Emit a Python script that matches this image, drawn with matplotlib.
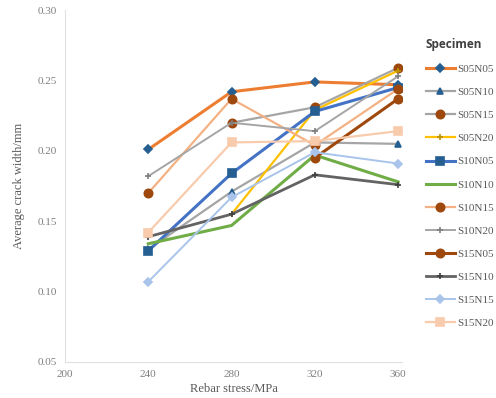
import matplotlib.pyplot as plt
import numpy as np

# rebar stress levels (MPa)
stress = [240, 280, 320, 360]
nan = np.nan

# average crack width (mm) per specimen
S05N05 = [0.201, 0.242, 0.249, 0.247]
S05N10 = [0.130, 0.171, 0.206, 0.205]
S05N15 = [nan, 0.220, 0.231, 0.259]
S05N20 = [nan, 0.155, 0.229, 0.257]
S10N05 = [0.129, 0.184, 0.228, 0.245]
S10N10 = [0.134, 0.147, 0.197, 0.178]
S10N15 = [0.170, 0.237, 0.204, 0.244]
S10N20 = [0.182, 0.220, 0.214, 0.253]
S15N05 = [nan, nan, 0.195, 0.237]
S15N10 = [0.139, 0.155, 0.183, 0.176]
S15N15 = [0.107, 0.167, 0.199, 0.191]
S15N20 = [0.142, 0.206, 0.207, 0.214]

names = ["S05N05", "S05N10", "S05N15", "S05N20", "S10N05", "S10N10",
         "S10N15", "S10N20", "S15N05", "S15N10", "S15N15", "S15N20"]
series = [S05N05, S05N10, S05N15, S05N20, S10N05, S10N10,
          S10N15, S10N20, S15N05, S15N10, S15N15, S15N20]

# (line colour, marker, marker colour, line width, marker size)
styles = [
    ("#ED7D31", "D", "#255E91", 2.2, 4),
    ("#A5A5A5", "^", "#255E91", 1.6, 5),
    ("#A5A5A5", "o", "#9E480E", 1.6, 6),
    ("#FFC000", "+", "#BF9000", 1.6, 5),
    ("#4472C4", "s", "#255E91", 2.2, 6),
    ("#70AD47", "", "#70AD47", 2.2, 0),
    ("#F4B183", "o", "#9E480E", 1.6, 6),
    ("#A5A5A5", "+", "#7F7F7F", 1.4, 5),
    ("#9E480E", "o", "#9E480E", 2.2, 6),
    ("#636363", "+", "#404040", 2.0, 5),
    ("#A9C4EB", "D", "#A9C4EB", 1.4, 4),
    ("#F8CBAD", "s", "#F8CBAD", 1.6, 6),
]

fig = plt.figure(figsize=(4.96, 3.98), dpi=100)
ax = fig.add_axes([0.131, 0.0905, 0.680, 0.884])

for name, vals, st in zip(names, series, styles):
    col, mk, mcol, lw, ms = st
    ax.plot(stress, vals, color=col, lw=lw, marker=mk if mk else None,
            markersize=ms, markerfacecolor=mcol, markeredgecolor=mcol,
            markeredgewidth=1.2, label=name)

ax.set_xlim(200, 362)
ax.set_ylim(0.05, 0.30)
ax.set_xticks([200, 240, 280, 320, 360])
ax.set_yticks([0.05, 0.10, 0.15, 0.20, 0.25, 0.30])
ax.set_yticklabels([f"{v:.2f}" for v in [0.05, 0.10, 0.15, 0.20, 0.25, 0.30]])

for s in ["top", "right"]:
    ax.spines[s].set_visible(False)
for s in ["left", "bottom"]:
    ax.spines[s].set_color("#E0E0E0")
    ax.spines[s].set_linewidth(0.8)
ax.tick_params(length=0, labelsize=8, colors="#7F7F7F", pad=6)
for lab in ax.get_xticklabels() + ax.get_yticklabels():
    lab.set_family("Liberation Serif")

ax.set_xlabel("Rebar stress/MPa", fontsize=9, family="Liberation Serif",
              color="#595959", labelpad=3)
ax.set_ylabel("Average crack width/mm", fontsize=9, family="Liberation Serif",
              color="#595959", labelpad=9)

leg = fig.legend(loc="upper left", bbox_to_anchor=(0.838, 0.93),
                 frameon=False, prop={"family": "Liberation Serif", "size": 8},
                 labelspacing=1.2, handlelength=2.6, handletextpad=0.25,
                 title="Specimen", title_fontproperties={"family": "Open Sans",
                                                        "weight": "bold", "size": 8.5})
leg._legend_box.align = "left"
for t in leg.get_texts():
    t.set_color("#595959")
leg.get_title().set_color("#404040")

fig.savefig("out.png", dpi=100)
